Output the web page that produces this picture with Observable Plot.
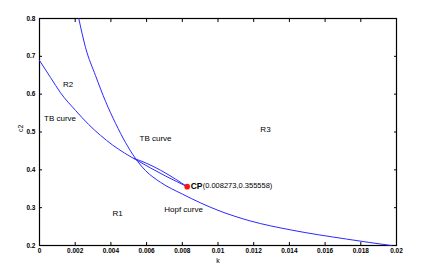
<!DOCTYPE html>
<html><head><meta charset="utf-8">
<script src="https://cdn.jsdelivr.net/npm/d3@7"></script>
<script src="https://cdn.jsdelivr.net/npm/@observablehq/plot@0.6"></script>
<style>body{margin:0;background:#fff}</style>
</head><body><div id="chart"></div>
<script>
// Upper curve from the top, continuing as the Hopf curve
const curveA_k  = [0.0022, 0.00258, 0.00314, 0.0037, 0.00426, 0.00482, 0.00538, 0.00594, 0.00678, 0.008, 0.01, 0.0118, 0.0141, 0.0172, 0.0197];
const curveA_c2 = [0.800, 0.723, 0.649, 0.581, 0.523, 0.472, 0.430, 0.398, 0.367, 0.336, 0.293, 0.265, 0.241, 0.217, 0.200];
// Left TB curve from k=0 to the cusp point
const curveB_k  = [0, 0.00062, 0.00118, 0.00202, 0.00275, 0.00342, 0.00409, 0.00476, 0.00538, 0.00622, 0.00706, 0.008273];
const curveB_c2 = [0.689, 0.644, 0.6035, 0.557, 0.520, 0.491, 0.4656, 0.4445, 0.4273, 0.4049, 0.3837, 0.355558];
// Short branch from the crossing to the cusp point
const curveC_k  = [0.00530, 0.00594, 0.00678, 0.00762, 0.008273];
const curveC_c2 = [0.4300, 0.4185, 0.3990, 0.3755, 0.355558];
// Cusp point
const cpK = 0.008273, cpC2 = 0.355558;
// Ticks
const xTicks = [0, 0.002, 0.004, 0.006, 0.008, 0.01, 0.012, 0.014, 0.016, 0.018, 0.02];
const xTickLabels = ["0", "0.002", "0.004", "0.006", "0.008", "0.01", "0.012", "0.014", "0.016", "0.018", "0.02"];
const yTicks = [0.2, 0.3, 0.4, 0.5, 0.6, 0.7, 0.8];
const yTickLabels = ["0.2", "0.3", "0.4", "0.5", "0.6", "0.7", "0.8"];
// Annotations
const labelText = ["R2", "TB curve", "TB curve", "R3", "R1", "Hopf curve"];
const labelK    = [0.0016, 0.00115, 0.0065, 0.01266, 0.00437, 0.00807];
const labelC2   = [0.625, 0.536, 0.484, 0.508, 0.2846, 0.2952];

const toRows = (ks, cs) => ks.map((k, i) => ({k, c2: cs[i]}));
const A = toRows(curveA_k, curveA_c2);
const B = toRows(curveB_k, curveB_c2);
const C = toRows(curveC_k, curveC_c2);
const labels = labelText.map((t, i) => ({t, k: labelK[i], c2: labelC2[i]}));
const xfmt = d => xTickLabels[xTicks.findIndex(v => Math.abs(v - d) < 1e-9)];
const yfmt = d => yTickLabels[yTicks.findIndex(v => Math.abs(v - d) < 1e-9)];
const blue = "#2a2aff";

const chart = Plot.plot({
  width: 434, height: 267,
  marginLeft: 39, marginRight: 38, marginTop: 18, marginBottom: 22,
  style: {fontFamily: "'Liberation Sans', Arial, sans-serif", background: "#fff", color: "#000"},
  x: {domain: [0, 0.02]},
  y: {domain: [0.2, 0.8]},
  marks: [
    Plot.axisX({ticks: xTicks, tickFormat: xfmt, tickSize: 0, tickPadding: 3, fontSize: 6.5, fontWeight: "bold", label: null}),
    Plot.axisX({ticks: xTicks, tickFormat: () => "", tickSize: -3, label: null}),
    Plot.axisX({anchor: "top", ticks: xTicks, tickFormat: () => "", tickSize: -3, label: null}),
    Plot.axisY({ticks: yTicks, tickFormat: yfmt, tickSize: 0, tickPadding: 4, fontSize: 6.5, fontWeight: "bold", label: null}),
    Plot.axisY({ticks: yTicks, tickFormat: () => "", tickSize: -3, label: null}),
    Plot.axisY({anchor: "right", ticks: yTicks, tickFormat: () => "", tickSize: -3, label: null}),
    Plot.frame({stroke: "#000", strokeWidth: 1.2}),
    Plot.line(B, {x: "k", y: "c2", stroke: blue, strokeWidth: 1, curve: "monotone-x"}),
    Plot.line(C, {x: "k", y: "c2", stroke: blue, strokeWidth: 1, curve: "monotone-x"}),
    Plot.line(A, {x: "k", y: "c2", stroke: blue, strokeWidth: 1, curve: "monotone-x"}),
    Plot.dot([{k: cpK, c2: cpC2}], {x: "k", y: "c2", r: 2.8, fill: "#ff1010", stroke: "none"}),
    Plot.text([{k: cpK, c2: cpC2}], {x: "k", y: "c2", text: () => "CP", dx: 3.5, textAnchor: "start", fontSize: 8.5, fontWeight: "bold", fill: "#000"}),
    Plot.text([{k: cpK, c2: cpC2}], {x: "k", y: "c2", text: d => `(${d.k},${d.c2})`, dx: 15.5, dy: -1, textAnchor: "start", fontSize: 7.5, fill: "#000"}),
    Plot.text(labels, {x: "k", y: "c2", text: "t", fontSize: 8, fill: "#000"}),
    Plot.text(["k"], {frameAnchor: "bottom", dy: 17, text: d => d, fontSize: 7, fill: "#000"}),
    Plot.text(["c2"], {frameAnchor: "left", dx: -19, rotate: -90, text: d => d, fontSize: 7, fill: "#000"})
  ]
});
document.getElementById("chart").appendChild(chart);
</script></body></html>
